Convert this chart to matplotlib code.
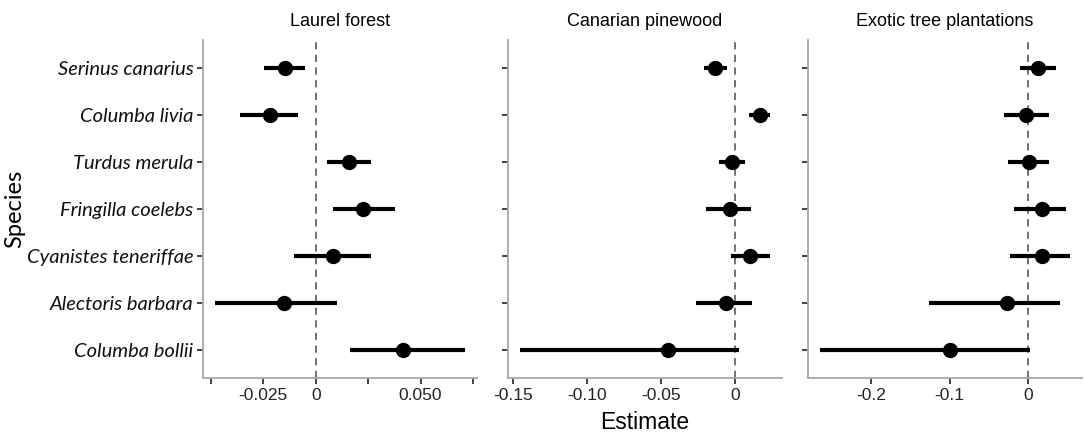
import matplotlib
matplotlib.use("Agg")
import matplotlib.pyplot as plt

species = ["Serinus canarius", "Columba livia", "Turdus merula", "Fringilla coelebs",
           "Cyanistes teneriffae", "Alectoris barbara", "Columba bollii"]
habitats = ["Laurel forest", "Canarian pinewood", "Exotic tree plantations"]

# estimates and 95% CI per habitat, same order as species
laurel_est = [-0.0146, -0.0217, 0.0159, 0.0227, 0.0084, -0.0152, 0.0414]
laurel_lo = [-0.0249, -0.0363, 0.0056, 0.0083, -0.0103, -0.0478, 0.0163]
laurel_hi = [-0.0051, -0.0083, 0.0262, 0.0378, 0.0265, 0.0102, 0.0710]

pine_est = [-0.0135, 0.0164, -0.0022, -0.0034, 0.0101, -0.0063, -0.0454]
pine_lo = [-0.0213, 0.0092, -0.0112, -0.0198, -0.0029, -0.0265, -0.1448]
pine_hi = [-0.0056, 0.0231, 0.0067, 0.0108, 0.0231, 0.0115, 0.0022]

exotic_est = [0.0132, -0.0017, 0.0013, 0.0178, 0.0187, -0.0263, -0.0998]
exotic_lo = [-0.0102, -0.0301, -0.0251, -0.0178, -0.0221, -0.1261, -0.2650]
exotic_hi = [0.0365, 0.0272, 0.0268, 0.0493, 0.0535, 0.0416, 0.0034]

xticks = [[-0.05, -0.025, 0, 0.025, 0.05, 0.075],
          [-0.15, -0.10, -0.05, 0],
          [-0.2, -0.1, 0]]
xticklabels = [["", "-0.025", "0", "", "0.050", ""],
               ["-0.15", "-0.10", "-0.05", "0"],
               ["-0.2", "-0.1", "0"]]

data = [(laurel_est, laurel_lo, laurel_hi),
        (pine_est, pine_lo, pine_hi),
        (exotic_est, exotic_lo, exotic_hi)]

fig = plt.figure(figsize=(10.84, 4.32), dpi=100)
lefts = [0.1873, 0.4686, 0.7454]
width = 0.2528
bottom = 0.125
height = 0.7824

ypos = list(range(len(species), 0, -1))
spine_col = "#a8a8a8"

for i, (est, lo, hi) in enumerate(data):
    ax = fig.add_axes([lefts[i], bottom, width, height])
    ax.axvline(0, color="#666666", ls=(0, (4, 3)), lw=1.3, zorder=1)
    ax.hlines(ypos, lo, hi, color="black", lw=3.0, zorder=2)
    ax.plot(est, ypos, "o", color="black", ms=10, zorder=3)
    lo_all = min(lo)
    hi_all = max(hi)
    pad = (hi_all - lo_all) * 0.05
    ax.set_xlim(lo_all - pad, hi_all + pad)
    ax.set_ylim(0.4, 7.6)
    ax.set_yticks(ypos)
    if i == 0:
        ax.set_yticklabels(species, fontfamily="Lato", style="italic", fontsize=14.5, color="#111111")
        ax.set_ylabel("Species", fontfamily="Lato", fontsize=17, labelpad=1)
    else:
        ax.set_yticklabels([""] * len(species))
    if i == 1:
        ax.set_xlabel("Estimate", fontfamily="Liberation Sans", fontsize=16.5, labelpad=6)
    ax.set_xticks(xticks[i])
    ax.set_xticklabels(xticklabels[i], fontfamily="Liberation Sans", fontsize=12.5, color="#222222")
    ax.set_title(habitats[i], fontfamily="Liberation Sans", fontsize=13, pad=10)
    for s in ["top", "right"]:
        ax.spines[s].set_visible(False)
    for s in ["left", "bottom"]:
        ax.spines[s].set_color(spine_col)
        ax.spines[s].set_linewidth(1.3)
    ax.tick_params(axis="both", length=4, width=1.2, color="#222222", pad=3)

fig.savefig("out.png", dpi=100)
